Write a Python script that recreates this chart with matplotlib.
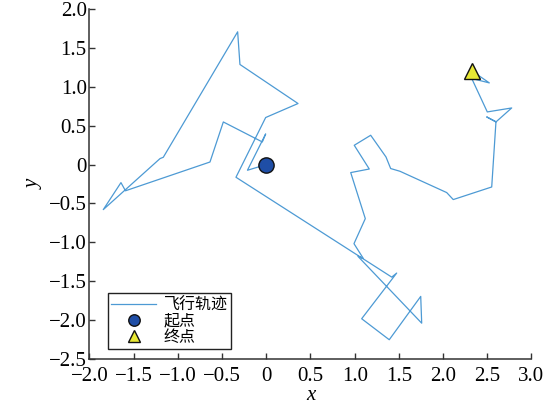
import matplotlib
matplotlib.use('Agg')
import matplotlib.pyplot as plt

plt.rcParams['font.family'] = ['Liberation Serif', 'DejaVu Serif']
plt.rcParams['axes.unicode_minus'] = True

# flight path, start -> end
path_x = [0.0, -0.213, -0.007, -0.045, -0.486, -0.637, -1.593, -1.644, -1.844, -1.202,
          -1.165, -0.324, -0.298, 0.359, -0.007, -0.343, 1.419, 1.475, 1.079, 1.391,
          1.747, 1.758, 1.037, 1.097, 0.992, 1.120, 0.955, 1.165, 0.995, 1.181,
          1.354, 1.407, 1.512, 2.041, 2.115, 2.550, 2.598, 2.493, 2.600, 2.776,
          2.500, 2.324, 2.523, 2.324]
path_y = [0.0, -0.073, 0.394, 0.291, 0.548, 0.033, -0.337, -0.232, -0.579, 0.077,
          0.094, 1.707, 1.287, 0.785, 0.605, -0.163, -1.447, -1.395, -1.982, -2.252,
          -1.695, -2.039, -1.180, -1.206, -1.017, -0.695, -0.103, -0.057, 0.248, 0.377,
          0.098, -0.051, -0.086, -0.360, -0.450, -0.288, 0.548, 0.613, 0.550, 0.728,
          0.677, 1.107, 1.050, 1.207]

x_ticks = [-2.0, -1.5, -1.0, -0.5, 0.0, 0.5, 1.0, 1.5, 2.0, 2.5, 3.0]
y_ticks = [-2.5, -2.0, -1.5, -1.0, -0.5, 0.0, 0.5, 1.0, 1.5, 2.0]

legend_labels = ['飞行轨迹', '起点', '终点']


def tick_text(v):
    if abs(v) < 1e-9:
        return '0'
    return f'{v:.1f}'.replace('-', '\u2212')


fig = plt.figure(figsize=(5.44, 4.12), dpi=100)
ax = fig.add_axes([0.1645, 0.1286, 0.8125, 0.8495])

ax.plot(path_x, path_y, color='#4d9ad4', linewidth=0.9, label=legend_labels[0], zorder=2)
ax.plot(path_x[0], path_y[0], 'o', markersize=11, markerfacecolor='#1f4ea6',
        markeredgecolor='#111111', markeredgewidth=1.0, linestyle='none',
        label=legend_labels[1], zorder=3)
ax.plot(path_x[-1], path_y[-1], '^', markersize=12, markerfacecolor='#e8e834',
        markeredgecolor='#111111', markeredgewidth=1.0, linestyle='none',
        label=legend_labels[2], zorder=3)

ax.set_xlim(-2.0, 3.0)
ax.set_ylim(-2.5, 2.0)
tick_font = {'family': 'Liberation Serif', 'size': 15}
ax.set_xticks(x_ticks, [tick_text(v) for v in x_ticks], fontdict=tick_font)
ax.set_yticks(y_ticks, [tick_text(v) for v in y_ticks], fontdict=tick_font)

for side in ['top', 'right']:
    ax.spines[side].set_visible(False)
for side in ['left', 'bottom']:
    ax.spines[side].set_color('#333333')
    ax.spines[side].set_linewidth(1.1)

ax.tick_params(direction='in', length=4, width=1.0, color='#333333', labelcolor='black')
ax.tick_params(axis='x', pad=6)
ax.tick_params(axis='y', pad=2)

ax.set_xlabel('x', fontsize=15, fontstyle='italic', family='Liberation Serif', labelpad=0)
ax.set_ylabel('y', fontsize=15, fontstyle='italic', family='Liberation Serif', labelpad=4)

leg = ax.legend(loc='lower left', bbox_to_anchor=(0.042, 0.029), borderaxespad=0,
                fancybox=False, edgecolor='#222222', framealpha=1,
                prop={'family': ['Noto Sans CJK SC', 'DejaVu Sans'], 'size': 11.5},
                labelspacing=-0.05, borderpad=0.2, handlelength=2.8,
                handletextpad=0.5, markerscale=0.75)
leg.get_frame().set_linewidth(1.0)

fig.savefig('out.png', dpi=100)
